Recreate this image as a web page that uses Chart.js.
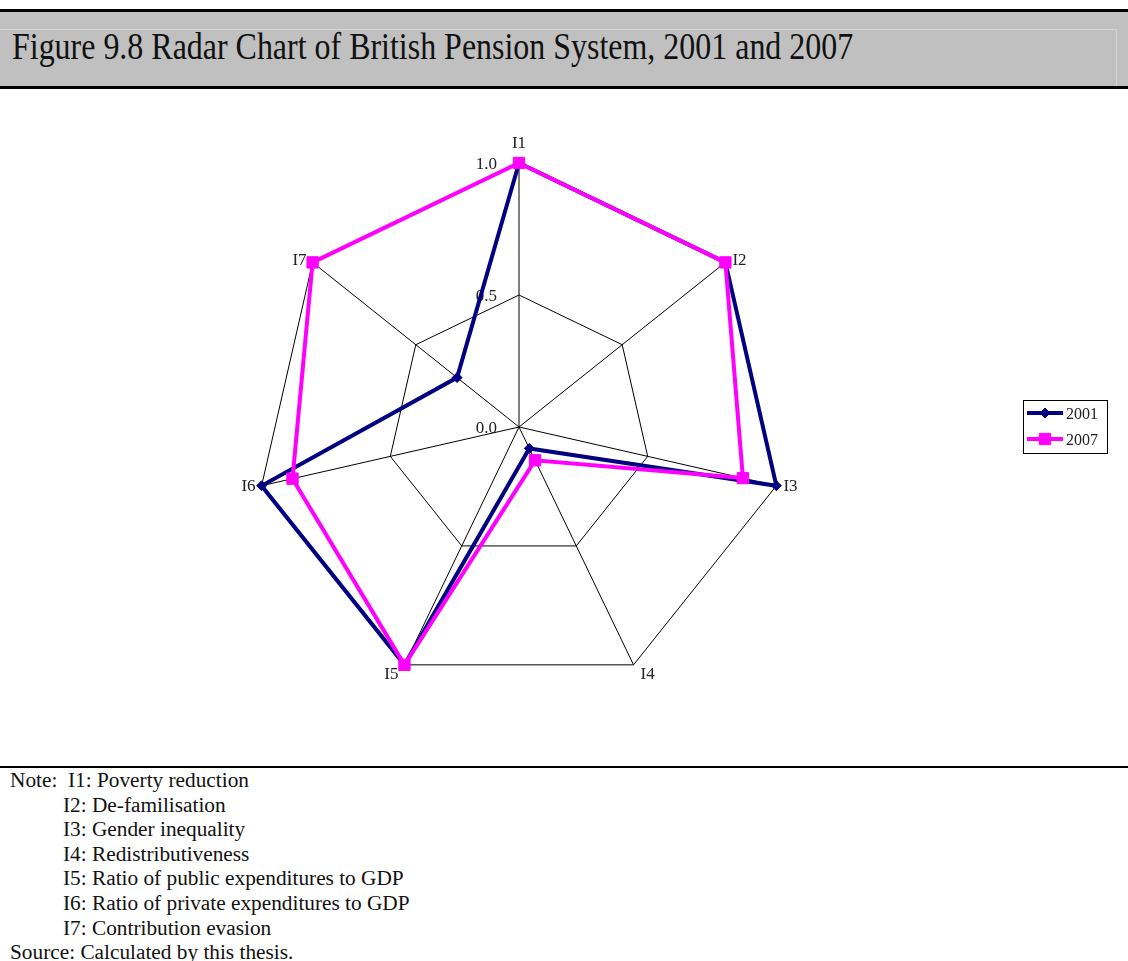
<!DOCTYPE html>
<html>
<head>
<meta charset="utf-8">
<title>Figure 9.8 Radar Chart of British Pension System, 2001 and 2007</title>
<script src="https://cdn.jsdelivr.net/npm/chart.js@4.4.1/dist/chart.umd.min.js"></script>
<style>
  html, body { margin: 0; padding: 0; background: #fff; }
  body { width: 1128px; height: 961px; position: relative; overflow: hidden;
         font-family: "Liberation Serif", "Times New Roman", serif; color: #111; }
  .rule { position: absolute; left: 0; width: 1128px; background: #000; }
  #titleBar { position: absolute; left: 0; top: 12px; width: 1128px; height: 74px; background: #c0c0c0; }
  #titleFrame { position: absolute; left: 0; top: 17px; width: 1116px; height: 57px;
                border-top: 1px solid #d4d4d4; border-right: 1px solid #d4d4d4; }
  #title { position: absolute; left: 12px; top: 28px; font-size: 37px; line-height: 37px;
           white-space: nowrap; transform-origin: 0 0; }
  #chart { position: absolute; left: 0; top: 92px; }
  #notes { position: absolute; left: 10px; top: 768px; font-size: 21.3px; line-height: 24.6px;
           white-space: pre; }
  #notes .ind { padding-left: 53px; }
</style>
</head>
<body>
<div class="rule" style="top:9px;height:3px"></div>
<div id="titleBar"><div id="titleFrame"></div></div>
<div id="title">Figure 9.8 Radar Chart of British Pension System, 2001 and 2007</div>
<div class="rule" style="top:86px;height:3px"></div>

<canvas id="chart" width="1128" height="670"></canvas>

<div class="rule" style="top:766px;height:2px"></div>
<div id="notes"><div>Note:  I1: Poverty reduction</div><div class="ind">I2: De-familisation</div><div class="ind">I3: Gender inequality</div><div class="ind">I4: Redistributiveness</div><div class="ind">I5: Ratio of public expenditures to GDP</div><div class="ind">I6: Ratio of private expenditures to GDP</div><div class="ind">I7: Contribution evasion</div><div>Source: Calculated by this thesis.</div></div>

<script>
const axisLabels = ["I1", "I2", "I3", "I4", "I5", "I6", "I7"];
const years = ["2001", "2007"];
const values2001 = [1.0, 1.0, 1.0, 0.09, 1.0, 1.0, 0.30];
const values2007 = [1.0, 1.0, 0.87, 0.14, 1.0, 0.88, 1.0];
const tickValues = [0.0, 0.5, 1.0];

// title is set in a tall face and squeezed to the bar width
const title = document.getElementById("title");
title.style.transform = "scaleX(" + (841 / title.offsetWidth) + ")";

const chartFont = '17px "Liberation Serif", "Times New Roman", serif';

// value labels sit left of the vertical axis, under the lines
const tickLabels = {
    id: "tickLabels",
    beforeDatasetsDraw(chart) {
        const r = chart.scales.r;
        const ctx = chart.ctx;
        ctx.save();
        ctx.font = chartFont;
        ctx.fillStyle = "#222";
        ctx.textAlign = "right";
        ctx.textBaseline = "middle";
        tickValues.forEach(v => {
            const d = r.getDistanceFromCenterForValue(v);
            ctx.fillText(v.toFixed(1), r.xCenter - 22, r.yCenter - d + 2);
        });
        ctx.restore();
    }
};

// axis names placed just outside each spoke
const axisNames = {
    id: "axisNames",
    afterDraw(chart) {
        const r = chart.scales.r;
        const ctx = chart.ctx;
        ctx.save();
        ctx.font = chartFont;
        ctx.fillStyle = "#222";
        ctx.textBaseline = "middle";
        axisLabels.forEach((lbl, i) => {
            const p = r.getPointPosition(i, r.drawingArea);
            const a = r.getIndexAngle(i);
            const s = Math.sin(a), c = Math.cos(a);
            if (Math.abs(s) < 0.1) {
                ctx.textAlign = "center";
                ctx.fillText(lbl, p.x, p.y - 19);
            } else {
                ctx.textAlign = s > 0 ? "left" : "right";
                const dy = c < -0.8 ? 10 : -3 * c;
                ctx.fillText(lbl, p.x + (s > 0 ? 7 : -6), p.y + dy);
            }
        });
        ctx.restore();
    }
};

// boxed legend on the right
const legendBox = {
    id: "legendBox",
    afterDraw(chart) {
        const ctx = chart.ctx;
        ctx.save();
        ctx.strokeStyle = "#000";
        ctx.lineWidth = 1;
        ctx.strokeRect(1023.5, 308.5, 84, 53);
        ctx.font = '16px "Liberation Serif", "Times New Roman", serif';
        ctx.textBaseline = "middle";
        ctx.textAlign = "left";
        const order = [1, 0]; // 2001 first
        order.forEach((dsIndex, row) => {
            const ds = chart.data.datasets[dsIndex];
            const y = 321 + row * 26;
            ctx.strokeStyle = ds.borderColor;
            ctx.lineWidth = 4;
            ctx.beginPath();
            ctx.moveTo(1027, y);
            ctx.lineTo(1063, y);
            ctx.stroke();
            ctx.fillStyle = ds.borderColor;
            ctx.strokeStyle = ds.borderColor;
            ctx.lineWidth = 1;
            Chart.helpers.drawPoint(ctx, {
                pointStyle: ds.pointStyle, radius: ds.pointRadius, rotation: 0, borderWidth: 1
            }, 1045, y);
            ctx.fillStyle = "#222";
            ctx.fillText(ds.label, 1066, y + 2);
        });
        ctx.restore();
    }
};

new Chart(document.getElementById("chart"), {
    type: "radar",
    data: {
        labels: axisLabels,
        datasets: [
            {
                label: years[1],
                data: values2007,
                borderColor: "#ff00ff",
                backgroundColor: "#ff00ff",
                pointBackgroundColor: "#ff00ff",
                pointBorderColor: "#ff00ff",
                borderWidth: 4,
                pointStyle: "rect",
                pointRadius: 8,
                pointBorderWidth: 1,
                fill: false,
                tension: 0,
                clip: false
            },
            {
                label: years[0],
                data: values2001,
                borderColor: "#000080",
                backgroundColor: "#000080",
                pointBackgroundColor: "#000080",
                pointBorderColor: "#000080",
                borderWidth: 4,
                pointStyle: "rectRot",
                pointRadius: 5,
                pointBorderWidth: 1,
                fill: false,
                tension: 0,
                clip: false
            }
        ]
    },
    options: {
        responsive: false,
        animation: false,
        layout: { padding: { left: 0, right: 90, top: 71, bottom: 71 } },
        plugins: {
            legend: { display: false },
            tooltip: { enabled: false }
        },
        scales: {
            r: {
                min: 0,
                max: 1,
                ticks: { stepSize: 0.5, display: false },
                pointLabels: { display: false },
                grid: { color: "#000", lineWidth: 1, circular: false },
                angleLines: { color: "#000", lineWidth: 1 }
            }
        }
    },
    plugins: [tickLabels, axisNames, legendBox]
});
</script>
</body>
</html>
